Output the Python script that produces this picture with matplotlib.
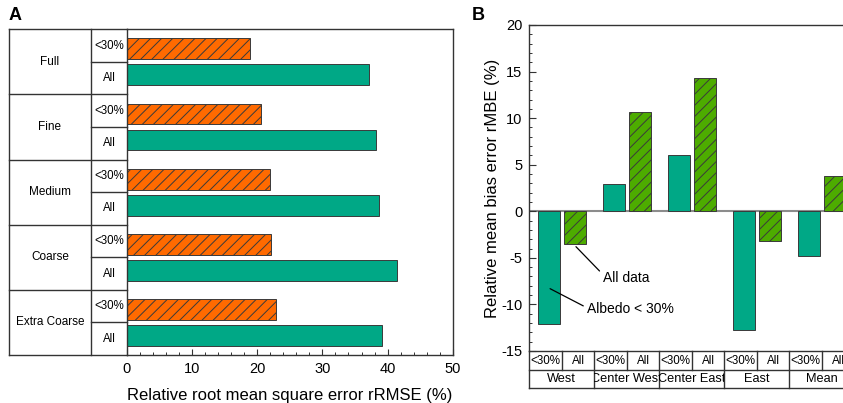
import matplotlib
matplotlib.use("Agg")
import matplotlib.pyplot as plt
from matplotlib.ticker import MultipleLocator
from matplotlib.transforms import Bbox, TransformedBbox
import numpy as np

plt.rcParams['font.family'] = ['Liberation Sans', 'DejaVu Sans']
plt.rcParams['axes.unicode_minus'] = False
plt.rcParams['hatch.color'] = '#2a2a2a'
plt.rcParams['hatch.linewidth'] = 0.7

# --- data, panel A ---
resolutions = ['Full', 'Fine', 'Medium', 'Coarse', 'Extra Coarse']
rmse_lt30 = [18.9, 20.5, 21.9, 22.1, 22.8]
rmse_all = [37.2, 38.3, 38.7, 41.4, 39.2]

# --- data, panel B ---
regions = ['West', 'Center West', 'Center East', 'East', 'Mean']
rmbe_lt30 = [-12.1, 2.9, 6.0, -12.75, -4.8]
rmbe_all = [-3.55, 10.67, 14.28, -3.15, 3.8]
sub_labels = ['<30%', 'All']

teal = '#00A886'
orange = '#FF6A00'
lime = '#4DAC00'
edge = '#3a3a3a'
frame = '#333333'

W, H = 843, 403
fig = plt.figure(figsize=(W / 100, H / 100), dpi=100)


def fig_rect(x0, y0, x1, y1):
    # pixel box (top-left origin) -> figure fraction rect
    return [x0 / W, 1 - y1 / H, (x1 - x0) / W, (y1 - y0) / H]


def hline(ax, y, x0, x1, **kw):
    ax.plot([x0, x1], [y, y], transform=ax.transAxes, clip_on=False,
            color=frame, lw=1.0, **kw)


def vline(ax, x, y0, y1, **kw):
    ax.plot([x, x], [y0, y1], transform=ax.transAxes, clip_on=False,
            color=frame, lw=1.0, **kw)


# ================= Panel A =================
axA = fig.add_axes(fig_rect(127, 29.3, 452.7, 355))
n = len(resolutions)
ypos = np.arange(n) * 2 + 1
axA.barh(ypos - 0.4, rmse_lt30, height=0.64, color=orange, edgecolor=edge,
         linewidth=0.7, hatch='///')
axA.barh(ypos + 0.4, rmse_all, height=0.64, color=teal, edgecolor=edge,
         linewidth=0.7)
axA.set_ylim(2 * n, 0)
axA.set_xlim(0, 50)
axA.set_yticks([])
axA.xaxis.set_major_locator(MultipleLocator(10))
axA.xaxis.set_minor_locator(MultipleLocator(2))
axA.tick_params(axis='x', which='major', direction='in', length=4, width=0.8,
                labelsize=10.5, pad=5, color=frame)
axA.tick_params(axis='x', which='minor', direction='in', length=2.5,
                width=0.7, color=frame)
axA.set_xlabel('Relative root mean square error rRMSE (%)', fontsize=12,
               labelpad=9)
for s in axA.spines.values():
    s.set_color(frame)
    s.set_linewidth(1.0)

# table on the left of panel A (axes fraction units)
pw = 452.7 - 127
xl = (9 - 127) / pw
xm = (91 - 127) / pw
hline(axA, 1, xl, 0)
hline(axA, 0, xl, 0)
vline(axA, xl, 0, 1)
vline(axA, xm, 0, 1)
for i, name in enumerate(resolutions):
    top = 1 - i / n
    mid = 1 - (i + 0.5) / n
    if i > 0:
        hline(axA, top, xl, 0)
    hline(axA, mid, xm, 0)
    axA.text((xl + xm) / 2, mid, name, transform=axA.transAxes,
             ha='center', va='center', fontsize=8.5)
    axA.text(xm / 2, 1 - (i + 0.25) / n, sub_labels[0],
             transform=axA.transAxes, ha='center', va='center', fontsize=8.3)
    axA.text(xm / 2, 1 - (i + 0.75) / n, sub_labels[1],
             transform=axA.transAxes, ha='center', va='center', fontsize=8.3)

fig.text(9 / W, 1 - 15 / H, 'A', fontsize=13, fontweight='bold',
         ha='left', va='center')

# ================= Panel B =================
axB = fig.add_axes(fig_rect(529.3, 25, 854.3, 351))
m = len(regions)
xpos = np.arange(m)
axB.bar(xpos - 0.2, rmbe_lt30, width=0.33, color=teal, edgecolor=edge,
        linewidth=0.7)
axB.bar(xpos + 0.2, rmbe_all, width=0.33, color=lime, edgecolor=edge,
        linewidth=0.7, hatch='///')
axB.axhline(0, color='#8c8c8c', lw=1.5, zorder=0.5)
axB.set_xlim(-0.5, m - 0.5)
axB.set_ylim(-15, 20)
axB.set_xticks([])
axB.yaxis.set_major_locator(MultipleLocator(5))
axB.yaxis.set_minor_locator(MultipleLocator(1))
axB.tick_params(axis='y', which='major', direction='in', length=5, width=0.8,
                labelsize=10.5, pad=5, color=frame)
axB.tick_params(axis='y', which='minor', direction='in', length=2.5,
                width=0.7, color=frame)
axB.set_ylabel('Relative mean bias error rMBE (%)', fontsize=12, labelpad=1)
for s in axB.spines.values():
    s.set_color(frame)
    s.set_linewidth(1.0)

axB.annotate('All data', xy=(0.218, -3.8), xytext=(0.638, -7.2),
             fontsize=10, ha='left', va='center',
             arrowprops=dict(arrowstyle='-', color='black', lw=0.9,
                             shrinkA=1, shrinkB=0, relpos=(0, 0.75)))
axB.annotate('Albedo < 30%', xy=(-0.18, -8.31), xytext=(0.392, -10.53),
             fontsize=10, ha='left', va='center',
             arrowprops=dict(arrowstyle='-', color='black', lw=0.9,
                             shrinkA=1, shrinkB=0, relpos=(0, 0.6)))

# category table under panel B
ph = 351 - 25
r1 = -19 / ph
r2 = -37 / ph
hline(axB, r1, 0, 1)
hline(axB, r2, 0, 1)
for i, name in enumerate(regions):
    x0 = i / m
    x1 = (i + 1) / m
    xc = (i + 0.5) / m
    vline(axB, x0, r2, 0)
    vline(axB, xc, r1, 0)
    axB.text((x0 + xc) / 2, r1 / 2, sub_labels[0], transform=axB.transAxes,
             ha='center', va='center', fontsize=8.4)
    axB.text((xc + x1) / 2, r1 / 2, sub_labels[1], transform=axB.transAxes,
             ha='center', va='center', fontsize=8.4)
    t = axB.text(xc, (r1 + r2) / 2, name, transform=axB.transAxes,
                 ha='center', va='center', fontsize=9.2, clip_on=True)
    t.set_clip_box(TransformedBbox(Bbox([[x0, r2], [x1, r1]]), axB.transAxes))
vline(axB, 1, r2, 0)

fig.text(472 / W, 1 - 15 / H, 'B', fontsize=13, fontweight='bold',
         ha='left', va='center')

fig.savefig('out.png', dpi=100)
plt.close(fig)
